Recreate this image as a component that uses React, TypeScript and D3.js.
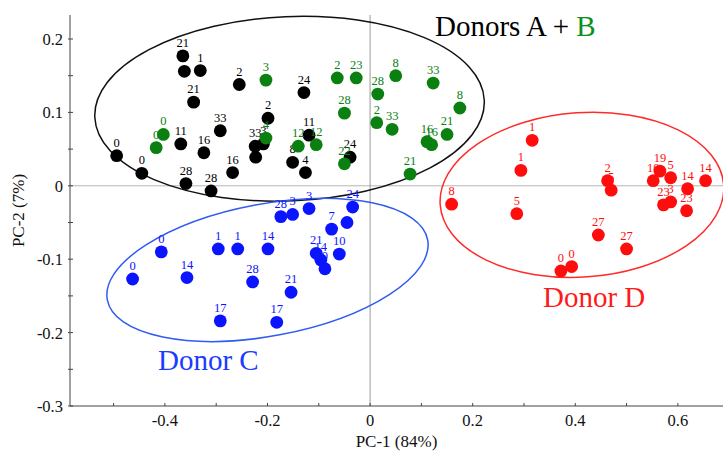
import React from "react";
import * as d3 from "d3";

// PCA scores: [PC-1, PC-2] with the sampling day shown as label
const donorAB_A: [number, number, string][] = [
  [-0.365, 0.177, "21"], [-0.362, 0.156, ""], [-0.331, 0.157, "1"], [-0.344, 0.114, "21"],
  [-0.292, 0.075, "33"], [-0.369, 0.057, "11"], [-0.324, 0.045, "16"], [-0.494, 0.041, "0"],
  [-0.445, 0.017, "0"], [-0.359, 0.003, "28"], [-0.31, -0.007, "28"], [-0.268, 0.018, "16"],
  [-0.255, 0.138, "2"], [-0.129, 0.127, "24"], [-0.199, 0.092, "2"], [-0.224, 0.054, "33"],
  [-0.208, 0.057, "3"], [-0.223, 0.039, ""], [-0.119, 0.069, "11"], [-0.151, 0.032, "8"],
  [-0.126, 0.018, "4"], [-0.039, 0.039, "24"],
];
const donorAB_B: [number, number, string][] = [
  [-0.403, 0.07, "0"], [-0.417, 0.052, "0"], [-0.203, 0.144, "3"], [-0.064, 0.147, "2"],
  [-0.027, 0.147, "23"], [0.05, 0.15, "8"], [0.015, 0.125, "28"], [-0.05, 0.099, "28"],
  [0.013, 0.086, "2"], [0.043, 0.077, "33"], [-0.203, 0.065, "4"], [-0.14, 0.054, "12"],
  [-0.105, 0.056, "12"], [-0.05, 0.03, "22"], [0.123, 0.14, "33"], [0.175, 0.106, "8"],
  [0.15, 0.07, "21"], [0.111, 0.06, "16"], [0.12, 0.056, "16"], [0.078, 0.016, "21"],
];
const donorC: [number, number, string][] = [
  [-0.407, -0.09, "0"], [-0.463, -0.127, "0"], [-0.296, -0.086, "1"], [-0.258, -0.086, "1"],
  [-0.199, -0.086, "14"], [-0.357, -0.125, "14"], [-0.229, -0.131, "28"], [-0.292, -0.184, "17"],
  [-0.174, -0.042, "28"], [-0.151, -0.039, "3"], [-0.119, -0.031, "3"], [-0.034, -0.029, "24"],
  [-0.045, -0.05, ""], [-0.075, -0.059, "7"], [-0.105, -0.092, "21"], [-0.096, -0.101, "14"],
  [-0.088, -0.113, "0"], [-0.06, -0.093, "10"], [-0.154, -0.145, "21"], [-0.182, -0.186, "17"],
];
const donorD: [number, number, string][] = [
  [0.316, 0.062, "1"], [0.294, 0.021, "1"], [0.159, -0.025, "8"], [0.286, -0.038, "5"],
  [0.463, 0.007, "2"], [0.47, -0.006, "5"], [0.445, -0.067, "27"], [0.5, -0.086, "27"],
  [0.372, -0.116, "0"], [0.393, -0.11, "0"], [0.565, 0.02, "19"], [0.552, 0.007, "10"],
  [0.586, 0.011, "5"], [0.619, -0.004, "14"], [0.654, 0.007, "14"], [0.572, -0.026, "23"],
  [0.586, -0.022, "3"], [0.617, -0.034, "23"],
];

// Confidence ellipses: centre (data), semi-axes (data units), tilt (deg)
const ellipseAB = { cx: -0.157, cy: 0.105, rx: 0.38, ry: 0.1255, angle: -2.5 };
const ellipseC = { cx: -0.2, cy: -0.1146, rx: 0.3177, ry: 0.09, angle: -10.6 };
const ellipseD = { cx: 0.413, cy: -0.0123, rx: 0.277, ry: 0.112, angle: -4 };

const xTicks = [-0.4, -0.2, 0, 0.2, 0.4, 0.6];
const yTicks = [0.2, 0.1, 0, -0.1, -0.2, -0.3];

const W = 723;
const H = 452;
const M = { left: 70, top: 15, right: 0, bottom: 46 };
const FONT =
  "'Liberation Serif', 'DejaVu Serif', 'Noto Serif', Tinos, 'Times New Roman', Times, serif";

export default function App() {
  const x = d3.scaleLinear().domain([-0.585, 0.688]).range([M.left, W - M.right]);
  const y = d3.scaleLinear().domain([-0.3, 0.2327]).range([H - M.bottom, M.top]);
  const x0 = M.left, x1 = W - M.right, y0 = H - M.bottom, y1 = M.top;

  const xMinor = d3.range(-0.5, 0.65, 0.1);
  const yMinor = d3.range(-0.3, 0.226, 0.05);
  const fmt = (t: number) => (Math.abs(t) < 1e-9 ? "0" : d3.format(".1f")(t).replace("\u2212", "-"));

  const ell = (e: typeof ellipseAB, color: string) => {
    const cx = x(e.cx), cy = y(e.cy);
    const rx = x(e.cx + e.rx) - cx;
    const ry = cy - y(e.cy + e.ry);
    return (
      <ellipse cx={cx} cy={cy} rx={rx} ry={ry} fill="none" stroke={color} strokeWidth={1.5}
        transform={`rotate(${e.angle} ${cx} ${cy})`} />
    );
  };

  const tx = { fontFamily: FONT };

  const pts = (data: [number, number, string][], color: string) =>
    data.map((d, i) => (
      <g key={i}>
        <circle cx={x(d[0])} cy={y(d[1])} r={6.4} fill={color} />
        {d[2] && (
          <text x={x(d[0])} y={y(d[1]) - 9} textAnchor="middle" fontSize={12.5} fill={color} style={tx}>
            {d[2]}
          </text>
        )}
      </g>
    ));

  return (
    <svg width={W} height={H} style={{ position: "absolute", left: 0, top: 0, background: "#fff", fontFamily: FONT }}>
      {/* zero reference lines */}
      <line x1={x0} x2={x1} y1={y(0)} y2={y(0)} stroke="#b5b5b5" strokeWidth={1} />
      <line x1={x(0)} x2={x(0)} y1={y1} y2={y0} stroke="#9a9a9a" strokeWidth={1} />

      {/* axes */}
      <line x1={x0} x2={x0} y1={y1} y2={y0} stroke="#444" strokeWidth={1} />
      <line x1={x0} x2={x1} y1={y0} y2={y0} stroke="#444" strokeWidth={1} />
      {xMinor.map((t, i) => (
        <line key={"xm" + i} x1={x(t)} x2={x(t)} y1={y0} y2={y0 - 3} stroke="#444" />
      ))}
      {yMinor.map((t, i) => (
        <line key={"ym" + i} x1={x0 - 2} x2={x0 + 3} y1={y(t)} y2={y(t)} stroke="#444" />
      ))}
      {xTicks.map((t) => (
        <text key={"xt" + t} x={x(t)} y={y0 + 20} textAnchor="middle" fontSize={16.5} fill="#111" style={tx}>
          {fmt(t)}
        </text>
      ))}
      {yTicks.map((t) => (
        <text key={"yt" + t} x={x0 - 7} y={y(t) + 6} textAnchor="end" fontSize={16.5} fill="#111" style={tx}>
          {fmt(t)}
        </text>
      ))}
      <text x={(x0 + x1) / 2} y={H - 5} textAnchor="middle" fontSize={17} fill="#111" style={tx}>PC-1 (84%)</text>
      <text transform={`translate(24, ${(y0 + y1) / 2}) rotate(-90)`} textAnchor="middle" fontSize={17} fill="#111" style={tx}>
        PC-2 (7%)
      </text>

      {/* group ellipses */}
      {ell(ellipseAB, "#111")}
      {ell(ellipseC, "#2f5cf2")}
      {ell(ellipseD, "#ff2a2a")}

      {/* scores */}
      {pts(donorAB_A, "#000")}
      {pts(donorAB_B, "#0a8010")}
      {pts(donorC, "#0a14ff")}
      {pts(donorD, "#ff0d0d")}

      {/* group labels */}
      <text x={435} y={36} fontSize={29} fill="#000" style={tx}>
        Donors A + <tspan fill="#0a9020">B</tspan>
      </text>
      <text x={158} y={370} fontSize={29} fill="#1a3cff" style={tx}>Donor C</text>
      <text x={543} y={307} fontSize={29} fill="#ff1a1a" style={tx}>Donor D</text>
    </svg>
  );
}
